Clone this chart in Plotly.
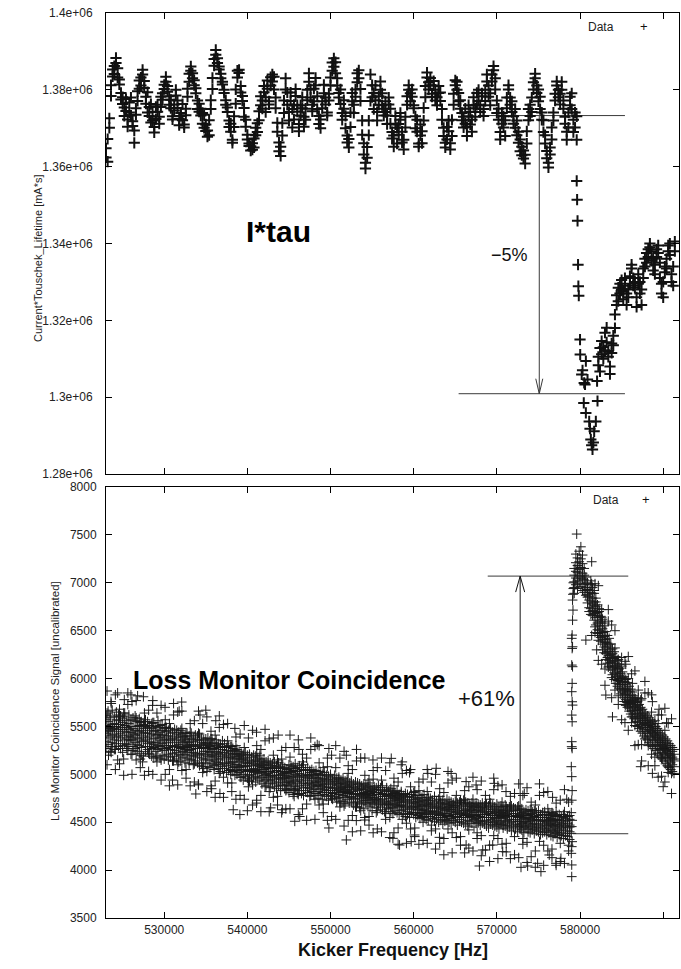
import plotly.graph_objects as go

# ---------------- axis / tick data ----------------
X_RANGE = [523000, 591900]
X_TICKS = [530000, 540000, 550000, 560000, 570000, 580000, 590000]
X_TICKTEXT = ["530000", "540000", "550000", "560000", "570000", "580000", "590000"]
TOP_Y_RANGE = [1280000, 1400000]
TOP_Y_TICKS = [1280000, 1300000, 1320000, 1340000, 1360000, 1380000, 1400000]
TOP_Y_TICKTEXT = ["1.28e+06", "1.3e+06", "1.32e+06", "1.34e+06", "1.36e+06", "1.38e+06", "1.4e+06"]
LOSS_Y_RANGE = [3500, 8000]
LOSS_Y_TICKS = [3500, 4000, 4500, 5000, 5500, 6000, 6500, 7000, 7500, 8000]

# ---------------- top panel: I*tau  (freq in kHz, value in 1e3 mA*s) ----------------
TOP_TRACE = [
    (523.0, [1362.4, 1364.8]), (523.2, [1361.3, 1367.2]), (523.4, [1370.1, 1372.6]), (523.6, [1378.4, 1381.2]),
    (523.8, [1383.5, 1385.3]), (524.0, [1386.2, 1384.1]), (524.2, [1388.3, 1387.0]), (524.4, [1385.6, 1383.2]),
    (524.6, [1381.4, 1382.7]), (524.8, [1379.2, 1377.5]), (525.0, [1376.3, 1378.1]), (525.2, [1375.4, 1373.2]),
    (525.4, [1377.6, 1374.5]), (525.6, [1372.3, 1370.4]), (525.8, [1374.1, 1376.7]), (526.0, [1378.0, 1373.3]),
    (526.2, [1370.6, 1371.8]), (526.4, [1366.2, 1369.4]), (526.6, [1373.5, 1375.2]), (526.8, [1377.1, 1379.6]),
    (527.0, [1380.3, 1382.4]), (527.2, [1383.2, 1381.1]), (527.4, [1385.2, 1384.0]), (527.6, [1382.3, 1380.5]),
    (527.8, [1378.2, 1376.4]), (528.0, [1379.4, 1374.1]), (528.2, [1373.2, 1375.5]), (528.4, [1371.5, 1376.3]),
    (528.6, [1374.2, 1372.0]), (528.8, [1370.3, 1368.9]), (529.0, [1372.4, 1375.6]), (529.2, [1376.1, 1374.3]),
    (529.4, [1373.0, 1371.2]), (529.6, [1375.5, 1378.2]), (529.8, [1377.4, 1379.1]), (530.0, [1381.3, 1380.2]),
    (530.2, [1383.4, 1382.1]), (530.4, [1381.0, 1379.5]), (530.6, [1378.3, 1376.1]), (530.8, [1375.2, 1377.4]),
    (531.0, [1373.1, 1372.3]), (531.2, [1374.6, 1376.2]), (531.4, [1378.5, 1380.0]), (531.6, [1377.2, 1375.3]),
    (531.8, [1372.4, 1370.8]), (532.0, [1374.0, 1373.2]), (532.2, [1376.3, 1372.1]), (532.4, [1371.0, 1370.2]),
    (532.6, [1373.4, 1375.1]), (532.8, [1378.2, 1380.3]), (533.0, [1382.1, 1384.2]), (533.2, [1385.0, 1386.1]),
    (533.4, [1384.3, 1383.0]), (533.6, [1381.2, 1382.5]), (533.8, [1379.1, 1380.4]), (534.0, [1377.2, 1375.0]),
    (534.2, [1374.3, 1376.4]), (534.4, [1375.1, 1373.3]), (534.6, [1371.2, 1374.0]), (534.8, [1373.5, 1370.1]),
    (535.0, [1369.3, 1371.0]), (535.2, [1367.8, 1369.4]), (535.4, [1368.2, 1372.1]), (535.6, [1375.0, 1377.3]),
    (535.8, [1380.2, 1383.1]), (536.0, [1386.3, 1388.0]), (536.2, [1389.1, 1390.4]), (536.4, [1388.2, 1387.0]),
    (536.6, [1385.3, 1386.1]), (536.8, [1383.0, 1384.2]), (537.0, [1381.4, 1382.1]), (537.2, [1379.2, 1380.0]),
    (537.4, [1377.3, 1376.1]), (537.6, [1374.2, 1375.4]), (537.8, [1372.0, 1370.3]), (538.0, [1369.1, 1371.2]),
    (538.2, [1367.0, 1366.2]), (538.4, [1370.3, 1373.1]), (538.6, [1376.4, 1380.1]), (538.8, [1383.2, 1385.0]),
    (539.0, [1384.4, 1385.2]), (539.2, [1381.0, 1379.3]), (539.4, [1377.1, 1378.4]), (539.6, [1375.3, 1373.0]),
    (539.8, [1372.2, 1370.4]), (540.0, [1368.3, 1367.1]), (540.2, [1365.4, 1366.0]), (540.4, [1364.2, 1365.3]),
    (540.6, [1366.1, 1364.4]), (540.8, [1365.0, 1367.3]), (541.0, [1368.2, 1370.1]), (541.2, [1371.3, 1369.0]),
    (541.4, [1372.1, 1374.4]), (541.6, [1376.0, 1378.3]), (541.8, [1377.2, 1375.1]), (542.0, [1379.4, 1381.0]),
    (542.2, [1378.1, 1374.2]), (542.4, [1380.3, 1382.4]), (542.6, [1376.2, 1377.0]), (542.8, [1381.1, 1383.3]),
    (543.0, [1384.0, 1382.2]), (543.2, [1383.4, 1380.1]), (543.4, [1378.0, 1375.2]), (543.6, [1371.4, 1369.1]),
    (543.8, [1366.3, 1364.0]), (544.0, [1362.8, 1365.2]), (544.2, [1368.1, 1371.3]), (544.4, [1374.0, 1377.2]),
    (544.6, [1380.1, 1383.0]), (544.8, [1379.3, 1376.1]), (545.0, [1374.2, 1372.0]), (545.2, [1377.1, 1379.3]),
    (545.4, [1375.0, 1370.2]), (545.6, [1372.3, 1376.1]), (545.8, [1378.4, 1380.2]), (546.0, [1376.0, 1374.3]),
    (546.2, [1371.1, 1369.2]), (546.4, [1373.3, 1376.0]), (546.6, [1378.1, 1375.2]), (546.8, [1373.0, 1370.4]),
    (547.0, [1372.2, 1375.1]), (547.2, [1377.3, 1380.0]), (547.4, [1382.1, 1384.3]), (547.6, [1380.2, 1378.0]),
    (547.8, [1376.1, 1374.4]), (548.0, [1377.0, 1380.3]), (548.2, [1383.1, 1381.2]), (548.4, [1378.3, 1375.0]),
    (548.6, [1373.2, 1371.1]), (548.8, [1370.0, 1372.3]), (549.0, [1375.2, 1377.0]), (549.2, [1379.1, 1381.3]),
    (549.4, [1378.0, 1376.2]), (549.6, [1374.1, 1373.3]), (549.8, [1377.2, 1379.0]), (550.0, [1381.1, 1383.2]),
    (550.2, [1385.0, 1387.1]), (550.4, [1388.2, 1386.0]), (550.6, [1384.3, 1387.2]), (550.8, [1383.0, 1381.1]),
    (551.0, [1379.2, 1378.0]), (551.2, [1380.1, 1376.3]), (551.4, [1374.0, 1372.2]), (551.6, [1375.1, 1377.3]),
    (551.8, [1373.2, 1370.0]), (552.0, [1368.1, 1366.3]), (552.2, [1365.0, 1367.2]), (552.4, [1370.3, 1374.1]),
    (552.6, [1377.0, 1379.2]), (552.8, [1376.1, 1374.0]), (553.0, [1378.2, 1380.1]), (553.2, [1382.0, 1384.3]),
    (553.4, [1385.1, 1383.0]), (553.6, [1380.2, 1377.1]), (553.8, [1372.0, 1368.3]), (554.0, [1366.1, 1363.2]),
    (554.2, [1361.0, 1359.5]), (554.4, [1362.3, 1365.1]), (554.6, [1368.2, 1372.0]), (554.8, [1377.1, 1384.0]),
    (555.0, [1381.2, 1378.1]), (555.2, [1375.0, 1379.2]), (555.4, [1381.1, 1377.3]), (555.6, [1374.2, 1372.0]),
    (555.8, [1376.1, 1378.3]), (556.0, [1380.0, 1382.2]), (556.2, [1379.1, 1376.0]), (556.4, [1373.3, 1375.1]),
    (556.6, [1377.0, 1374.2]), (556.8, [1371.1, 1373.3]), (557.0, [1376.2, 1378.0]), (557.2, [1375.1, 1371.2]),
    (557.4, [1369.0, 1367.3]), (557.6, [1365.2, 1368.1]), (557.8, [1371.0, 1373.2]), (558.0, [1370.1, 1366.0]),
    (558.2, [1368.3, 1371.1]), (558.4, [1374.0, 1372.2]), (558.6, [1369.1, 1366.3]), (558.8, [1364.5, 1367.0]),
    (559.0, [1370.2, 1373.0]), (559.2, [1376.1, 1378.3]), (559.4, [1380.0, 1381.2]), (559.6, [1379.1, 1377.0]),
    (559.8, [1378.2, 1380.1]), (560.0, [1376.0, 1375.2]), (560.2, [1373.1, 1370.0]), (560.4, [1372.2, 1369.1]),
    (560.6, [1366.0, 1365.2]), (560.8, [1368.1, 1371.0]), (561.0, [1369.2, 1366.1]), (561.2, [1372.0, 1375.3]),
    (561.4, [1378.1, 1381.0]), (561.6, [1383.2, 1384.5]), (561.8, [1382.0, 1380.1]), (562.0, [1383.1, 1381.2]),
    (562.2, [1379.0, 1378.2]), (562.4, [1381.1, 1382.3]), (562.6, [1380.0, 1377.2]), (562.8, [1378.1, 1376.0]),
    (563.0, [1379.2, 1381.0]), (563.2, [1377.1, 1379.3]), (563.4, [1375.0, 1372.2]), (563.6, [1370.1, 1368.0]),
    (563.8, [1366.2, 1365.0]), (564.0, [1367.1, 1370.3]), (564.2, [1372.0, 1369.2]), (564.4, [1366.1, 1364.5]),
    (564.6, [1368.0, 1372.2]), (564.8, [1376.1, 1379.0]), (565.0, [1381.2, 1382.5]), (565.2, [1380.0, 1382.1]),
    (565.4, [1379.2, 1377.0]), (565.6, [1375.1, 1377.3]), (565.8, [1374.0, 1372.1]), (566.0, [1370.2, 1373.0]),
    (566.2, [1375.1, 1371.2]), (566.4, [1368.0, 1370.3]), (566.6, [1373.1, 1376.0]), (566.8, [1374.2, 1371.0]),
    (567.0, [1369.1, 1372.2]), (567.2, [1376.0, 1378.1]), (567.4, [1375.2, 1373.0]), (567.6, [1376.1, 1379.2]),
    (567.8, [1380.0, 1377.1]), (568.0, [1374.2, 1376.0]), (568.2, [1379.1, 1378.3]), (568.4, [1375.0, 1373.2]),
    (568.6, [1377.1, 1380.0]), (568.8, [1382.2, 1384.0]), (569.0, [1381.1, 1378.2]), (569.2, [1376.0, 1379.1]),
    (569.4, [1382.2, 1384.0]), (569.6, [1385.1, 1386.2]), (569.8, [1383.0, 1380.1]), (570.0, [1377.2, 1374.0]),
    (570.2, [1375.1, 1372.2]), (570.4, [1369.0, 1367.1]), (570.6, [1371.2, 1374.0]), (570.8, [1373.1, 1370.2]),
    (571.0, [1368.0, 1372.1]), (571.2, [1375.2, 1378.0]), (571.4, [1380.1, 1381.2]), (571.6, [1378.0, 1376.1]),
    (571.8, [1374.2, 1377.0]), (572.0, [1373.1, 1371.2]), (572.2, [1375.0, 1370.1]), (572.4, [1368.2, 1372.0]),
    (572.6, [1369.1, 1366.2]), (572.8, [1364.0, 1367.1]), (573.0, [1365.2, 1363.0]), (573.2, [1362.1, 1364.2]),
    (573.4, [1360.8, 1363.1]), (573.6, [1366.0, 1369.2]), (573.8, [1372.1, 1375.0]), (574.0, [1373.2, 1376.1]),
    (574.2, [1378.0, 1374.2]), (574.4, [1380.1, 1382.0]), (574.6, [1384.2, 1383.0]), (574.8, [1381.1, 1379.2]),
    (575.0, [1377.0, 1380.1]), (575.2, [1378.2, 1375.0]), (575.4, [1374.1, 1372.2]), (575.6, [1369.0, 1372.1]),
    (575.8, [1368.2, 1366.0]), (576.0, [1364.1, 1362.2]), (576.2, [1361.0, 1359.8]), (576.4, [1363.2, 1365.0]),
    (576.6, [1367.1, 1370.2]), (576.8, [1372.0, 1374.1]), (577.0, [1377.2, 1379.0]), (577.2, [1381.1, 1382.2]),
    (577.4, [1380.0, 1378.1]), (577.6, [1376.2, 1379.0]), (577.8, [1382.1, 1380.0]), (578.0, [1377.2, 1375.1]),
    (578.2, [1373.0, 1371.2]), (578.4, [1369.1, 1367.0]), (578.6, [1370.2, 1374.1]), (578.8, [1376.0, 1378.2]),
    (579.0, [1379.1, 1375.0]), (579.2, [1372.2, 1369.0]), (579.4, [1374.1, 1370.2]), (579.6, [1367.0, 1373.1]),
]
TOP_DROP = [
    (579.60, 1356.3), (579.65, 1351.4), (579.70, 1345.9), (579.76, 1334.5), (579.80, 1328.9), (579.85, 1326.4),
    (580.00, 1315.0), (580.02, 1311.1), (580.70, 1309.4), (580.20, 1305.9), (580.50, 1303.7), (580.90, 1304.6),
    (580.60, 1303.3), (580.45, 1298.5), (580.70, 1295.9), (581.10, 1293.7), (581.70, 1291.1), (581.30, 1289.0),
    (581.50, 1286.4), (581.40, 1287.5), (581.60, 1288.2), (581.90, 1293.7), (582.10, 1299.0), (582.05, 1304.2),
    (580.30, 1307.0), (581.20, 1291.8),
]
TOP_RECOVERY = [
    (582.2, [1310.5, 1308.3]), (582.4, [1312.8, 1306.7]), (582.6, [1314.6, 1311.2]), (582.8, [1313.0, 1310.0]),
    (583.0, [1316.8, 1312.2]), (583.2, [1318.1, 1314.3]), (583.4, [1312.0, 1310.5]), (583.6, [1308.0, 1306.0]),
    (583.8, [1311.5, 1314.0]), (584.0, [1313.5, 1316.0]), (584.2, [1318.0, 1321.5]), (584.4, [1324.0, 1326.5]),
    (584.6, [1325.0, 1328.5]), (584.8, [1327.0, 1329.5]), (585.0, [1330.5, 1328.0]), (585.2, [1325.5, 1327.5]),
    (585.4, [1329.0, 1331.0]), (585.6, [1327.0, 1324.0]), (585.8, [1326.0, 1328.0]), (586.0, [1329.5, 1331.5]),
    (586.2, [1333.5, 1334.5]), (586.4, [1331.0, 1329.0]), (586.6, [1328.5, 1330.0]), (586.8, [1326.0, 1323.5]),
    (587.0, [1329.5, 1332.0]), (587.2, [1330.0, 1327.0]), (587.4, [1324.0, 1328.0]), (587.6, [1331.0, 1333.5]),
    (587.8, [1334.0, 1336.0]), (588.0, [1335.0, 1337.5]), (588.2, [1338.5, 1336.5]), (588.4, [1339.0, 1340.0]),
    (588.6, [1338.0, 1335.5]), (588.8, [1336.0, 1333.0]), (589.0, [1332.0, 1334.5]), (589.2, [1336.5, 1338.5]),
    (589.4, [1337.5, 1339.5]), (589.6, [1335.0, 1331.0]), (589.8, [1329.5, 1327.0]), (590.0, [1326.0, 1330.0]),
    (590.2, [1332.5, 1334.0]), (590.4, [1333.5, 1336.0]), (590.6, [1338.0, 1339.5]), (590.8, [1340.0, 1337.0]),
    (591.0, [1332.0, 1330.0]), (591.2, [1329.0, 1334.0]), (591.4, [1340.5, 1338.0]),
]

# ---------------- bottom panel: loss monitor (freq in kHz) ----------------
# dense band before the resonance, values in units of 10 counts
LOSS_BAND_TENS = [
    (523.00, [551, 534, 562, 543, 527, 557]), (523.25, [540, 566, 548, 531, 555, 545]),
    (523.50, [559, 538, 546, 524, 561, 549]), (523.75, [533, 552, 567, 541, 547, 529]),
    (524.00, [548, 560, 536, 553, 526, 542]), (524.25, [565, 539, 550, 532, 557, 545]),
    (524.50, [529, 547, 556, 540, 562, 535]), (524.75, [552, 527, 543, 561, 538, 549]),
    (525.00, [541, 558, 530, 547, 523, 554]), (525.25, [560, 536, 545, 551, 532, 564]),
    (525.50, [527, 549, 538, 556, 544, 531]), (525.75, [553, 540, 562, 529, 547, 536]),
    (526.00, [535, 557, 544, 521, 550, 539]), (526.25, [548, 529, 536, 559, 542, 525]),
    (526.50, [556, 541, 527, 546, 533, 561]), (526.75, [531, 550, 543, 524, 555, 538]),
    (527.00, [545, 522, 551, 537, 558, 530]), (527.25, [528, 546, 534, 555, 541, 520]),
    (527.50, [552, 535, 544, 519, 548, 539]), (527.75, [536, 557, 529, 543, 524, 550]),
    (528.00, [543, 526, 549, 532, 555, 538]), (528.25, [529, 551, 540, 521, 546, 534]),
    (528.50, [548, 533, 519, 542, 553, 527]), (528.75, [537, 554, 528, 545, 531, 517]),
    (529.00, [524, 541, 550, 533, 518, 546]), (529.25, [549, 530, 538, 556, 526, 542]),
    (529.50, [535, 517, 544, 529, 551, 539]), (529.75, [527, 546, 532, 541, 520, 552]),
    (530.00, [541, 525, 548, 516, 536, 530]), (530.25, [519, 538, 527, 545, 533, 549]),
    (530.50, [546, 528, 536, 521, 540, 515]), (530.75, [530, 543, 518, 535, 548, 526]),
    (531.00, [537, 522, 544, 529, 514, 540]), (531.25, [525, 547, 533, 519, 538, 530]),
    (531.50, [542, 516, 529, 536, 523, 546]), (531.75, [528, 539, 513, 544, 531, 521]),
    (532.00, [535, 520, 541, 527, 546, 514]), (532.25, [518, 533, 524, 539, 529, 543]),
    (532.50, [540, 526, 512, 534, 521, 537]), (532.75, [523, 543, 530, 517, 536, 528]),
    (533.00, [533, 515, 540, 525, 511, 531]), (533.25, [520, 537, 526, 543, 516, 529]),
    (533.50, [538, 523, 531, 510, 534, 519]), (533.75, [514, 530, 541, 522, 527, 536]),
    (534.00, [529, 512, 536, 521, 540, 518]), (534.25, [535, 520, 527, 509, 531, 542]),
    (534.50, [517, 533, 522, 538, 511, 528]), (534.75, [530, 515, 536, 524, 506, 532]),
    (535.00, [521, 537, 512, 528, 533, 516]), (535.25, [531, 508, 524, 538, 519, 527]),
    (535.50, [514, 529, 535, 507, 523, 530]), (535.75, [526, 518, 532, 511, 537, 520]),
    (536.00, [509, 527, 515, 533, 521, 505]), (536.25, [530, 513, 524, 536, 510, 519]),
    (536.50, [516, 532, 506, 522, 528, 512]), (536.75, [523, 510, 529, 517, 503, 531]),
    (537.00, [512, 526, 519, 535, 508, 521]), (537.25, [529, 506, 515, 523, 532, 511]),
    (537.50, [509, 520, 528, 502, 518, 525]), (537.75, [522, 513, 504, 530, 511, 517]),
    (538.00, [518, 505, 524, 512, 529, 500]), (538.25, [507, 521, 516, 527, 503, 513]),
    (538.50, [525, 510, 499, 519, 508, 522]), (538.75, [504, 517, 526, 510, 521, 500]),
    (539.00, [519, 502, 513, 524, 507, 516]), (539.25, [509, 522, 497, 515, 520, 505]),
    (539.50, [516, 500, 521, 508, 494, 518]), (539.75, [503, 514, 509, 523, 498, 512]),
    (540.00, [517, 496, 508, 520, 504, 511]), (540.25, [499, 512, 521, 505, 515, 493]),
    (540.50, [513, 503, 495, 518, 509, 500]), (540.75, [506, 520, 511, 497, 514, 502]),
    (541.00, [515, 498, 504, 519, 492, 510]), (541.25, [501, 513, 509, 496, 517, 505]),
    (541.50, [511, 494, 516, 503, 508, 520]), (541.75, [497, 510, 502, 514, 490, 507]),
    (542.00, [509, 499, 516, 493, 505, 512]), (542.25, [495, 507, 500, 513, 488, 503]),
    (542.50, [510, 497, 506, 491, 514, 501]), (542.75, [499, 512, 494, 507, 503, 486]),
    (543.00, [506, 493, 511, 498, 490, 509]), (543.25, [495, 508, 502, 487, 513, 499]),
    (543.50, [504, 491, 497, 509, 485, 506]), (543.75, [492, 507, 499, 512, 496, 488]),
    (544.00, [503, 489, 508, 495, 500, 483]), (544.25, [494, 506, 488, 501, 510, 497]),
    (544.50, [502, 485, 496, 507, 491, 499]), (544.75, [489, 501, 505, 484, 498, 492]),
    (545.00, [503, 488, 496, 510, 492, 481]), (545.25, [497, 509, 485, 502, 491, 506]),
    (545.50, [490, 504, 498, 479, 508, 494]), (545.75, [506, 493, 487, 500, 511, 484]),
    (546.00, [485, 499, 507, 492, 480, 503]), (546.25, [501, 488, 495, 509, 483, 497]),
    (546.50, [493, 505, 480, 498, 490, 507]), (546.75, [504, 486, 499, 491, 510, 478]),
    (547.00, [488, 500, 494, 483, 505, 497]), (547.25, [499, 481, 507, 490, 496, 486]),
    (547.50, [485, 502, 491, 498, 477, 504]), (547.75, [500, 489, 482, 505, 493, 496]),
    (548.00, [491, 478, 499, 487, 503, 484]), (548.25, [497, 488, 504, 480, 492, 500]),
    (548.50, [482, 496, 489, 501, 475, 494]), (548.75, [499, 485, 492, 478, 503, 488]),
    (549.00, [487, 500, 481, 495, 490, 474]), (549.25, [496, 479, 489, 502, 484, 493]),
    (549.50, [483, 494, 499, 477, 490, 486]), (549.75, [492, 481, 487, 498, 473, 495]),
    (550.00, [486, 497, 478, 491, 483, 500]), (550.25, [495, 480, 489, 474, 493, 485]),
    (550.50, [481, 493, 486, 499, 477, 490]), (550.75, [492, 475, 496, 483, 488, 471]),
    (551.00, [484, 495, 479, 490, 497, 476]), (551.25, [491, 482, 470, 487, 494, 485]),
    (551.50, [478, 490, 496, 481, 486, 472]), (551.75, [489, 476, 484, 493, 469, 482]),
    (552.00, [480, 492, 474, 487, 495, 483]), (552.25, [488, 470, 481, 491, 477, 486]),
    (552.50, [476, 489, 493, 471, 484, 480]), (552.75, [487, 479, 468, 490, 482, 475]),
    (553.00, [474, 486, 480, 492, 466, 485]), (553.25, [489, 472, 483, 477, 491, 470]),
    (553.50, [478, 490, 465, 484, 475, 487]), (553.75, [485, 471, 488, 479, 469, 480]),
    (554.00, [473, 484, 476, 490, 481, 464]), (554.25, [486, 470, 479, 473, 489, 477]),
    (554.50, [475, 487, 468, 482, 478, 491]), (554.75, [483, 466, 476, 488, 471, 480]),
    (555.00, [470, 485, 478, 462, 482, 474]), (555.25, [484, 473, 487, 469, 476, 481]),
    (555.50, [465, 479, 472, 486, 474, 460]), (555.75, [481, 468, 484, 475, 471, 488]),
    (556.00, [473, 486, 466, 479, 483, 470]), (556.25, [480, 463, 474, 488, 469, 477]),
    (556.50, [468, 482, 477, 461, 479, 472]), (556.75, [484, 471, 465, 478, 486, 469]),
    (557.00, [470, 479, 483, 464, 475, 468]), (557.25, [478, 466, 472, 485, 461, 477]),
    (557.50, [465, 480, 469, 476, 482, 459]), (557.75, [475, 462, 481, 468, 473, 478]),
    (558.00, [467, 477, 460, 474, 483, 470]), (558.25, [479, 466, 473, 458, 476, 468]),
    (558.50, [462, 475, 480, 467, 471, 482]), (558.75, [474, 459, 468, 478, 463, 472]),
    (559.00, [466, 477, 471, 456, 480, 465]), (559.25, [473, 461, 476, 467, 458, 479]),
    (559.50, [459, 470, 464, 477, 469, 455]), (559.75, [472, 463, 479, 466, 474, 460]),
    (560.00, [465, 476, 458, 471, 481, 467]), (560.25, [470, 460, 474, 455, 466, 478]),
    (560.50, [457, 469, 475, 463, 472, 466]), (560.75, [471, 459, 464, 478, 454, 468]),
    (561.00, [462, 473, 467, 456, 476, 460]), (561.25, [468, 455, 472, 463, 479, 458]),
    (561.50, [459, 470, 453, 466, 474, 462]), (561.75, [473, 461, 467, 452, 469, 476]),
    (562.00, [456, 468, 475, 460, 464, 471]), (562.25, [466, 454, 461, 473, 458, 469]),
    (562.50, [470, 459, 465, 451, 477, 462]), (562.75, [455, 467, 472, 461, 453, 466]),
    (563.00, [468, 457, 464, 474, 450, 460]), (563.25, [458, 470, 452, 465, 471, 463]),
    (563.50, [466, 455, 469, 459, 448, 473]), (563.75, [453, 464, 470, 457, 462, 451]),
    (564.00, [465, 452, 459, 468, 474, 456]), (564.25, [457, 469, 463, 450, 466, 472]),
    (564.50, [467, 454, 471, 461, 449, 463]), (564.75, [452, 465, 458, 470, 456, 468]),
    (565.00, [463, 450, 467, 455, 472, 460]), (565.25, [456, 468, 461, 447, 465, 470]),
    (565.50, [466, 453, 459, 471, 451, 462]), (565.75, [450, 464, 470, 458, 467, 455]),
    (566.00, [462, 449, 457, 469, 460, 473]), (566.25, [468, 455, 463, 448, 471, 459]),
    (566.50, [452, 466, 458, 470, 446, 461]), (566.75, [464, 451, 469, 456, 462, 467]),
    (567.00, [457, 470, 449, 463, 455, 466]), (567.25, [465, 453, 460, 468, 445, 458]),
    (567.50, [449, 462, 467, 454, 470, 457]), (567.75, [463, 450, 458, 466, 452, 469]),
    (568.00, [456, 468, 447, 461, 465, 451]), (568.25, [462, 449, 466, 455, 470, 458]),
    (568.50, [448, 460, 455, 467, 451, 464]), (568.75, [465, 452, 463, 446, 458, 469]),
    (569.00, [455, 467, 450, 461, 444, 459]), (569.25, [461, 448, 457, 466, 453, 470]),
    (569.50, [450, 463, 468, 455, 447, 459]), (569.75, [466, 454, 446, 460, 464, 451]),
    (570.00, [457, 448, 462, 469, 452, 445]), (570.25, [449, 461, 455, 443, 466, 458]),
    (570.50, [463, 450, 467, 456, 448, 460]), (570.75, [454, 466, 447, 459, 462, 444]),
    (571.00, [460, 446, 457, 468, 451, 455]), (571.25, [447, 458, 464, 452, 443, 462]),
    (571.50, [461, 453, 445, 466, 456, 449]), (571.75, [450, 463, 456, 441, 459, 467]),
    (572.00, [456, 445, 462, 451, 465, 447]), (572.25, [448, 459, 443, 457, 453, 464]),
    (572.50, [462, 451, 466, 446, 455, 440]), (572.75, [445, 456, 451, 463, 448, 458]),
    (573.00, [455, 442, 460, 449, 464, 446]), (573.25, [450, 461, 444, 454, 439, 457]),
    (573.50, [459, 447, 453, 463, 445, 451]), (573.75, [443, 455, 462, 449, 457, 440]),
    (574.00, [454, 446, 439, 458, 451, 463]), (574.25, [448, 459, 452, 442, 461, 445]),
    (574.50, [456, 443, 449, 462, 438, 453]), (574.75, [441, 452, 460, 447, 455, 444]),
    (575.00, [453, 440, 457, 448, 462, 445]), (575.25, [446, 458, 442, 451, 437, 455]),
    (575.50, [455, 444, 460, 439, 449, 452]), (575.75, [440, 451, 447, 458, 443, 461]),
    (576.00, [452, 437, 455, 446, 450, 441]), (576.25, [448, 457, 439, 453, 444, 460]),
    (576.50, [436, 449, 454, 442, 458, 447]), (576.75, [451, 441, 446, 459, 435, 452]),
    (577.00, [445, 456, 438, 448, 453, 440]), (577.25, [452, 439, 457, 443, 447, 434]),
    (577.50, [437, 450, 446, 458, 441, 453]), (577.75, [448, 436, 452, 444, 456, 439]),
    (578.00, [442, 455, 433, 449, 445, 458]), (578.25, [451, 438, 446, 454, 436, 447]),
    (578.50, [435, 449, 456, 441, 452, 444]), (578.75, [447, 440, 453, 432, 445, 457]),
]
# looser scatter around the band (tens of counts)
LOSS_HALO_TENS = [
    (523.125, [564, 510, 587]), (523.625, [523, 574, 529]), (524.125, [583, 526, 505]), (524.625, [511, 560, 568]),
    (525.125, [564, 516, 499]), (525.625, [525, 585, 573]), (526.125, [576, 500, 521]), (526.625, [515, 559, 577]),
    (527.125, [554, 507, 516]), (527.625, [499, 564, 555]), (528.125, [567, 522, 503]), (528.625, [554, 500, 577]),
    (529.125, [513, 564, 519]), (529.625, [572, 515, 494]), (530.125, [500, 549, 557]), (530.625, [553, 505, 488]),
    (531.125, [514, 574, 562]), (531.625, [565, 489, 510]), (532.125, [504, 548, 566]), (532.625, [543, 496, 505]),
    (533.125, [488, 553, 544]), (533.625, [556, 511, 492]), (534.125, [543, 489, 566]), (534.625, [502, 553, 508]),
    (535.125, [560, 503, 482]), (535.625, [488, 537, 545]), (536.125, [541, 493, 476]), (536.625, [501, 561, 549]),
    (537.125, [552, 476, 497]), (537.625, [491, 535, 553]), (538.125, [529, 482, 491]), (538.625, [474, 539, 530]),
    (539.125, [542, 497, 478]), (539.625, [528, 474, 551]), (540.125, [487, 538, 493]), (540.625, [546, 489, 468]),
    (541.125, [473, 522, 530]), (541.625, [526, 478, 461]), (542.125, [487, 547, 535]), (542.625, [537, 461, 482]),
    (543.125, [476, 520, 538]), (543.625, [515, 468, 477]), (544.125, [460, 525, 516]), (544.625, [528, 483, 464]),
    (545.125, [518, 464, 541]), (545.625, [477, 528, 483]), (546.125, [536, 479, 458]), (546.625, [464, 513, 521]),
    (547.125, [517, 469, 452]), (547.625, [478, 538, 526]), (548.125, [529, 453, 474]), (548.625, [468, 512, 530]),
    (549.125, [507, 460, 469]), (549.625, [452, 517, 508]), (550.125, [520, 475, 456]), (550.625, [507, 453, 530]),
    (551.125, [466, 517, 472]), (551.625, [524, 467, 446]), (552.125, [452, 501, 509]), (552.625, [505, 457, 440]),
    (553.125, [466, 526, 514]), (553.625, [517, 441, 462]), (554.125, [455, 499, 517]), (554.625, [494, 447, 456]),
    (555.125, [439, 504, 495]), (555.625, [507, 462, 443]), (556.125, [494, 440, 517]), (556.625, [453, 504, 459]),
    (557.125, [512, 455, 434]), (557.625, [439, 488, 496]), (558.125, [492, 444, 427]), (558.625, [453, 513, 501]),
    (559.125, [504, 428, 449]), (559.625, [443, 487, 505]), (560.125, [482, 435, 444]), (560.625, [427, 492, 483]),
    (561.125, [495, 450, 431]), (561.625, [482, 428, 505]), (562.125, [441, 492, 447]), (562.625, [500, 443, 422]),
    (563.125, [428, 477, 485]), (563.625, [481, 433, 416]), (564.125, [443, 503, 491]), (564.625, [494, 418, 439]),
    (565.125, [434, 478, 496]), (565.625, [473, 426, 435]), (566.125, [418, 483, 474]), (566.625, [487, 442, 423]),
    (567.125, [474, 420, 497]), (567.625, [433, 484, 439]), (568.125, [493, 436, 415]), (568.625, [421, 470, 478]),
    (569.125, [474, 426, 409]), (569.625, [436, 496, 484]), (570.125, [488, 412, 433]), (570.625, [427, 471, 489]),
    (571.125, [466, 419, 428]), (571.625, [412, 477, 468]), (572.125, [480, 435, 416]), (572.625, [467, 413, 490]),
    (573.125, [427, 478, 433]), (573.625, [486, 429, 408]), (574.125, [414, 463, 471]), (574.625, [468, 420, 403]),
    (575.125, [430, 490, 478]), (575.625, [481, 405, 426]), (576.125, [420, 464, 482]), (576.625, [460, 413, 422]),
    (577.125, [405, 470, 461]), (577.625, [473, 428, 409]), (578.125, [461, 407, 484]), (578.625, [420, 471, 426]),
]
LOSS_OUTLIERS = [
    (524.4, 5850), (526.0, 5830), (526.8, 5820), (527.5, 5810), (523.6, 5760), (525.2, 5780), (530.1, 5700),
    (532.1, 5755), (531.8, 5660), (535.0, 5670), (534.3, 5620), (528.6, 5720), (541.1, 5440), (543.7, 5410),
    (546.2, 5260), (548.4, 5310), (549.8, 5270), (551.9, 5200), (555.1, 5150), (557.3, 5167), (558.5, 5100),
    (559.5, 5018), (561.7, 5010), (562.7, 5063), (564.5, 5010), (566.3, 4924), (567.5, 4889), (569.7, 4906),
    (571.1, 4820), (573.3, 4800), (576.7, 4760), (578.4, 4740), (538.5, 5480), (536.2, 5560),
    (524.4, 5150), (527.4, 5130), (523.3, 5200), (531.0, 4940), (533.8, 4795), (534.1, 4900), (535.7, 4850),
    (536.7, 4800), (538.3, 4630), (539.1, 4580), (540.0, 4620), (541.1, 4700), (542.8, 4650), (544.2, 4630),
    (545.7, 4510), (546.3, 4560), (549.8, 4440), (551.9, 4315), (553.1, 4517), (554.1, 4523), (557.5, 4332),
    (558.3, 4262), (559.7, 4297), (560.1, 4367), (563.1, 4342), (566.3, 4262), (567.9, 4043), (568.3, 4210),
    (569.5, 4262), (570.7, 4193), (572.9, 4029), (573.7, 4043), (574.9, 4071), (575.3, 3984), (577.1, 4071),
    (577.7, 4123), (576.3, 4158),
]
LOSS_COLUMN = [
    (579.00, 3932), (579.00, 4054), (578.95, 4175), (579.00, 4245), (579.05, 4297), (578.95, 4384), (579.00, 4454),
    (579.05, 4520), (578.95, 4600), (579.00, 4730), (579.05, 4830), (579.00, 4976), (578.95, 5080), (579.05, 5271),
    (579.00, 5289), (579.00, 5341), (579.05, 5549), (579.00, 5619), (579.10, 5723), (579.05, 5758), (579.00, 5863),
    (579.05, 5950), (579.10, 6124), (579.00, 6141), (579.05, 6315), (579.10, 6332), (579.00, 6420), (579.05, 6454),
    (579.10, 6610), (579.15, 6715), (579.10, 6820), (579.20, 6940), (579.15, 6880), (579.20, 7000),
]
LOSS_PEAK = [
    (579.3, [6950, 7080, 7150, 6890, 7010]), (579.5, [7210, 7050, 6980, 7120, 7300]), (579.6, [7509]),
    (579.7, [7180, 7260, 7020, 7110, 6940]), (579.9, [7330, 7140, 7070, 7220, 6990]),
    (580.1, [7250, 7376, 7160, 7050, 6960]), (580.3, [7100, 7200, 6920, 7040, 7290]),
    (580.5, [7080, 6900, 7150, 6980, 7030]), (580.7, [6950, 7060, 6870, 6990, 6402]),
    (580.9, [6880, 7000, 6790, 6930, 6850]), (581.1, [6820, 6920, 6740, 6860, 6700]),
]
LOSS_DECAY_TENS = [
    (581.3, [690, 673, 698, 681, 667, 702]), (581.5, [684, 695, 666, 678, 689, 671]),
    (581.7, [661, 680, 689, 668, 676, 692]), (581.9, [675, 656, 684, 664, 670, 680]),
    (582.1, [651, 669, 677, 658, 666, 647]), (582.3, [664, 645, 670, 655, 673, 650]),
    (582.5, [643, 658, 665, 648, 639, 660]), (582.7, [652, 636, 648, 662, 641, 630]),
    (582.9, [633, 649, 627, 644, 655, 638]), (583.1, [641, 626, 649, 632, 620, 638]),
    (583.3, [622, 637, 645, 628, 616, 634]), (583.5, [636, 619, 613, 628, 642, 624]),
    (583.7, [617, 630, 609, 625, 636, 621]), (583.9, [626, 611, 631, 604, 618, 622]),
    (584.1, [606, 621, 614, 628, 599, 612]), (584.3, [616, 602, 623, 609, 595, 613]),
    (584.5, [598, 611, 619, 605, 592, 607]), (584.7, [610, 594, 603, 615, 590, 600]),
    (584.9, [589, 605, 597, 611, 584, 600]), (585.1, [601, 586, 594, 607, 580, 596]),
    (585.3, [583, 597, 590, 602, 576, 588]), (585.5, [594, 578, 588, 599, 572, 584]),
    (585.7, [575, 589, 582, 596, 570, 586]), (585.9, [587, 571, 580, 592, 566, 577]),
    (586.1, [569, 583, 576, 589, 563, 574]), (586.3, [580, 566, 573, 586, 560, 577]),
    (586.5, [563, 578, 570, 582, 558, 567]), (586.7, [575, 560, 567, 579, 555, 571]),
    (586.9, [558, 572, 563, 576, 550, 567]), (587.1, [569, 554, 561, 573, 548, 564]),
    (587.3, [552, 567, 559, 570, 545, 561]), (587.5, [563, 549, 556, 568, 543, 558]),
    (587.7, [547, 561, 553, 565, 540, 556]), (587.9, [559, 545, 551, 563, 538, 554]),
    (588.1, [543, 556, 549, 561, 536, 551]), (588.3, [554, 540, 547, 559, 533, 549]),
    (588.5, [539, 552, 545, 557, 531, 546]), (588.7, [550, 536, 543, 555, 529, 544]),
    (588.9, [535, 548, 541, 553, 527, 542]), (589.1, [546, 531, 538, 550, 525, 540]),
    (589.3, [530, 544, 536, 548, 522, 538]), (589.5, [541, 527, 533, 546, 520, 535]),
    (589.7, [526, 539, 531, 543, 518, 533]), (589.9, [537, 523, 529, 541, 516, 531]),
    (590.1, [521, 535, 527, 539, 514, 528]), (590.3, [533, 518, 525, 537, 511, 526]),
    (590.5, [517, 530, 522, 535, 509, 524]), (590.7, [528, 514, 520, 532, 507, 522]),
    (590.9, [512, 526, 518, 530, 505, 520]), (591.1, [524, 510, 516, 528, 503, 518]),
    (591.3, [508, 521, 514, 526, 501, 516]),
]
LOSS_DECAY_HALO_TENS = [
    (581.4, [699, 645, 722]), (581.8, [648, 699, 654]), (582.2, [697, 640, 619]), (582.6, [615, 664, 672]),
    (583.0, [658, 610, 593]), (583.4, [612, 672, 660]), (583.8, [656, 580, 601]), (584.2, [588, 632, 650]),
    (584.6, [620, 573, 582]), (585.0, [557, 622, 613]), (585.4, [618, 573, 554]), (585.8, [600, 546, 623]),
    (586.2, [554, 605, 560]), (586.6, [608, 551, 530]), (587.0, [531, 580, 588]), (587.4, [579, 531, 514]),
    (587.8, [537, 597, 585]), (588.2, [585, 509, 530]), (588.6, [521, 565, 583]), (589.0, [556, 509, 518]),
    (589.4, [497, 562, 553]), (589.8, [562, 517, 498]), (590.2, [546, 492, 569]), (590.6, [502, 553, 508]),
    (591.0, [558, 501, 480]),
]
LOSS_DECAY_OUTLIERS = [
    (583.9, 5600), (583.1, 5828), (588.7, 5759), (587.3, 5776), (586.3, 5950), (590.0, 4871), (588.7, 5010),
    (587.3, 5080), (589.5, 5680), (590.4, 5540), (585.5, 6150), (582.0, 6300),
]

# ---------------- annotation values ----------------
TOP_REF_LEVEL = 1373300
TOP_MIN_LEVEL = 1300900
TOP_REF_SPAN = [567800, 585400]
TOP_MIN_SPAN = [565400, 585400]
TOP_ARROW_F = 575100
LOSS_BASE_LEVEL = 4380
LOSS_PEAK_LEVEL = 7070
LOSS_PEAK_SPAN = [568900, 585800]
LOSS_BASE_SPAN = [579100, 585800]
LOSS_ARROW_F = 572800


def expand_groups(groups, f_scale, v_scale):
    xs, ys = [], []
    for f, vals in groups:
        for v in vals:
            xs.append(f * f_scale)
            ys.append(v * v_scale)
    return xs, ys


def expand_pairs(pairs, f_scale, v_scale):
    return [p[0] * f_scale for p in pairs], [p[1] * v_scale for p in pairs]


tx1, ty1 = expand_groups(TOP_TRACE, 1000, 1000)
tx2, ty2 = expand_pairs(TOP_DROP, 1000, 1000)
tx3, ty3 = expand_groups(TOP_RECOVERY, 1000, 1000)
top_x = tx1 + tx2 + tx3
top_y = ty1 + ty2 + ty3

parts = [
    expand_groups(LOSS_BAND_TENS, 1000, 10),
    expand_groups(LOSS_HALO_TENS, 1000, 10),
    expand_pairs(LOSS_OUTLIERS, 1000, 1),
    expand_pairs(LOSS_COLUMN, 1000, 1),
    expand_groups(LOSS_PEAK, 1000, 1),
    expand_groups(LOSS_DECAY_TENS, 1000, 10),
    expand_groups(LOSS_DECAY_HALO_TENS, 1000, 10),
    expand_pairs(LOSS_DECAY_OUTLIERS, 1000, 1),
]
loss_x = [x for xs, _ in parts for x in xs]
loss_y = [y for _, ys in parts for y in ys]

FONT = "Liberation Sans, Arial, Helvetica, sans-serif"
INK = "#111111"
LINE = "#3a3a3a"

fig = go.Figure()
fig.add_trace(go.Scatter(
    x=top_x, y=top_y, mode="markers", name="Data", xaxis="x", yaxis="y", showlegend=False,
    marker=dict(symbol="cross-thin", size=8, line=dict(width=2, color=INK), color=INK),
))
fig.add_trace(go.Scatter(
    x=loss_x, y=loss_y, mode="markers", name="Data", xaxis="x2", yaxis="y2", showlegend=False,
    marker=dict(symbol="cross-thin", size=7, line=dict(width=1.0, color="#1a1a1a"), color="#1a1a1a"),
))

axis_common = dict(
    showline=True, linecolor="#000000", linewidth=1, mirror="ticks", ticks="inside", ticklen=6,
    tickwidth=1, tickcolor="#000000", showgrid=False, zeroline=False,
    tickfont=dict(family=FONT, size=12, color="#222222"),
)

fig.update_layout(
    width=681, height=969,
    margin=dict(l=106, r=2, t=13, b=51),
    paper_bgcolor="white", plot_bgcolor="white",
    font=dict(family=FONT, color="#111111"),
    xaxis=dict(domain=[0, 1], anchor="y", range=X_RANGE, tickvals=X_TICKS, showticklabels=False, **axis_common),
    yaxis=dict(domain=[0.4906, 1], anchor="x", range=TOP_Y_RANGE, tickvals=TOP_Y_TICKS,
               ticktext=TOP_Y_TICKTEXT, ticklabelstandoff=10, **axis_common),
    xaxis2=dict(domain=[0, 1], anchor="y2", range=X_RANGE, tickvals=X_TICKS, ticktext=X_TICKTEXT,
                ticklabelstandoff=1, **axis_common),
    yaxis2=dict(domain=[0, 0.4762], anchor="x2", range=LOSS_Y_RANGE, tickvals=LOSS_Y_TICKS,
                ticklabelstandoff=6, **axis_common),
)

shapes = [
    dict(type="line", xref="x", yref="y", x0=TOP_REF_SPAN[0], x1=TOP_REF_SPAN[1], y0=TOP_REF_LEVEL, y1=TOP_REF_LEVEL,
         line=dict(color=LINE, width=1), layer="below"),
    dict(type="line", xref="x", yref="y", x0=TOP_MIN_SPAN[0], x1=TOP_MIN_SPAN[1], y0=TOP_MIN_LEVEL, y1=TOP_MIN_LEVEL,
         line=dict(color=LINE, width=1), layer="below"),
    dict(type="line", xref="x", yref="y", x0=TOP_ARROW_F, x1=TOP_ARROW_F, y0=TOP_REF_LEVEL, y1=TOP_MIN_LEVEL,
         line=dict(color=LINE, width=1), layer="below"),
    dict(type="path", xref="x", yref="y", xsizemode="pixel", ysizemode="pixel", xanchor=TOP_ARROW_F,
         yanchor=TOP_MIN_LEVEL, path="M-3.5,15 L0,0 L3.5,15", line=dict(color=LINE, width=1), layer="below"),
    dict(type="line", xref="x2", yref="y2", x0=LOSS_PEAK_SPAN[0], x1=LOSS_PEAK_SPAN[1], y0=LOSS_PEAK_LEVEL,
         y1=LOSS_PEAK_LEVEL, line=dict(color=LINE, width=1), layer="below"),
    dict(type="line", xref="x2", yref="y2", x0=LOSS_BASE_SPAN[0], x1=LOSS_BASE_SPAN[1], y0=LOSS_BASE_LEVEL,
         y1=LOSS_BASE_LEVEL, line=dict(color=LINE, width=1), layer="below"),
    dict(type="line", xref="x2", yref="y2", x0=LOSS_ARROW_F, x1=LOSS_ARROW_F, y0=LOSS_BASE_LEVEL, y1=LOSS_PEAK_LEVEL,
         line=dict(color="#111111", width=1), layer="below"),
    dict(type="path", xref="x2", yref="y2", xsizemode="pixel", ysizemode="pixel", xanchor=LOSS_ARROW_F,
         yanchor=LOSS_PEAK_LEVEL, path="M-4.5,-16 L0,0 L4.5,-16", line=dict(color="#111111", width=1), layer="below"),
]
fig.update_layout(shapes=shapes)

C = dict(xanchor="center", yanchor="middle", showarrow=False)
annotations = [
    dict(text="<b>I*tau</b>", xref="x", yref="y", x=543700, y=1343100,
         font=dict(family=FONT, size=30, color="#000000"), **C),
    dict(text="\u22125%", xref="x", yref="y", x=571500, y=1337000,
         font=dict(family=FONT, size=18, color="#111111"), **C),
    dict(text="<b>Loss Monitor Coincidence</b>", xref="x2", yref="y2", x=545100, y=5985,
         font=dict(family=FONT, size=25, color="#000000"), **C),
    dict(text="+61%", xref="x2", yref="y2", x=568800, y=5797,
         font=dict(family=FONT, size=22, color="#111111"), **C),
    dict(text="Data", xref="x domain", yref="y domain", x=0.8647, y=0.970,
         font=dict(family=FONT, size=12, color="#222222"), **C),
    dict(text="+", xref="x domain", yref="y domain", x=0.939, y=0.970,
         font=dict(family=FONT, size=13, color="#111111"), **C),
    dict(text="Data", xref="x2 domain", yref="y2 domain", x=0.872, y=0.970,
         font=dict(family=FONT, size=12, color="#222222"), **C),
    dict(text="+", xref="x2 domain", yref="y2 domain", x=0.942, y=0.970,
         font=dict(family=FONT, size=13, color="#111111"), **C),
    dict(text="Current*Touschek_Lifetime [mA*s]", xref="paper", yref="paper", x=-0.1187, y=0.7293,
         textangle=-90, font=dict(family=FONT, size=11, color="#222222"), **C),
    dict(text="Loss Monitor Coincidence Signal [uncalibrated]", xref="paper", yref="paper", x=-0.089, y=0.2398,
         textangle=-90, font=dict(family=FONT, size=11.5, color="#222222"), **C),
    dict(text="<b>Kicker Frequency [Hz]</b>", xref="paper", yref="paper", x=0.501, y=-0.0354,
         font=dict(family=FONT, size=18, color="#111111"), **C),
]
fig.update_layout(annotations=annotations)

fig.write_html("out.html")
